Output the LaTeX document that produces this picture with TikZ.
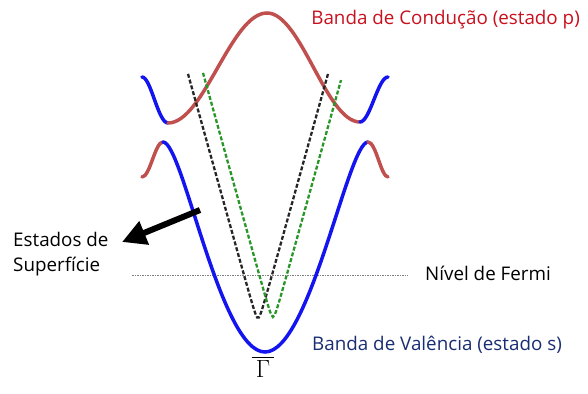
\documentclass[tikz,border=0pt]{standalone}
\usepackage{fontspec}
\setmainfont{Open Sans}
\usetikzlibrary{arrows.meta,positioning}
\definecolor{condred}{RGB}{192,80,77}
\definecolor{txtred}{RGB}{200,16,30}
\definecolor{valblue}{RGB}{20,20,240}
\definecolor{txtblue}{RGB}{25,45,115}
\definecolor{surfgreen}{RGB}{40,150,40}

\begin{document}
\begin{tikzpicture}[x=1pt,y=-1pt,
  band/.style={line width=3.5pt,line cap=round},
  surf/.style={line width=2.3pt,dash pattern=on 4pt off 2pt},
  fermiline/.style={gray,line width=0.9pt,dash pattern=on 1.5pt off 1pt},
  lbl/.style={font=\fontsize{18.8}{25}\selectfont,inner sep=0pt},
  arrow/.style={-{Triangle[length=24pt,width=24pt]},line width=6pt}
]
\useasboundingbox (0,0) rectangle (588,393);
% nivel de Fermi
\coordinate (fermiL) at (132,275);
\coordinate (fermiR) at (408,275);
\draw[fermiline] (fermiL) -- (fermiR);
% banda superior
\draw[band,valblue] (142,77) .. controls (151,77) and (158,123) .. (168,123);
\draw[band,condred] (168,123) .. controls (204,123) and (231,13) .. (267,13)
  .. controls (301,13) and (326,122) .. (360,122);
\draw[band,valblue] (360,122) .. controls (370,122) and (378,77) .. (388,77);
% banda inferior
\draw[band,condred] (142,177) .. controls (150,177) and (155,142) .. (163,142);
\draw[band,valblue] (163,142) .. controls (183,142) and (220,352) .. (265,352)
  .. controls (310,352) and (348,142) .. (368,142);
\draw[band,condred] (368,142) .. controls (376,142) and (381,177) .. (388,177);
% estados de superficie
\draw[surf,black!85] plot[domain=188:328,samples=80] (\x,{326-8*sqrt(1+(0.45*(\x-258))^2)});
\draw[surf,surfgreen] plot[domain=203:341,samples=80] (\x,{325-8*sqrt(1+(0.45*(\x-273))^2)});
% textos
\node[lbl,txtred,anchor=east] (conducao) at (580,20) {Banda de Condução (estado p)};
\node[lbl,txtblue,anchor=west] (valencia) at (312,345) {Banda de Valência (estado s)};
\node[lbl,anchor=west] (fermi) at (425,273) {Nível de Fermi};
\node[lbl,anchor=west,align=left] (estados) at (13,254) {Estados de\\Superfície};
\node[font=\fontsize{26}{26}\selectfont,inner sep=0pt] (gama) at (263,370) {$\overline{\mathstrut\,\Gamma\,}$};
% seta
\coordinate (tail) at (200,210);
\coordinate (tip) at (122,242);
\draw[arrow] (tail) -- (tip);
\end{tikzpicture}
\end{document}
